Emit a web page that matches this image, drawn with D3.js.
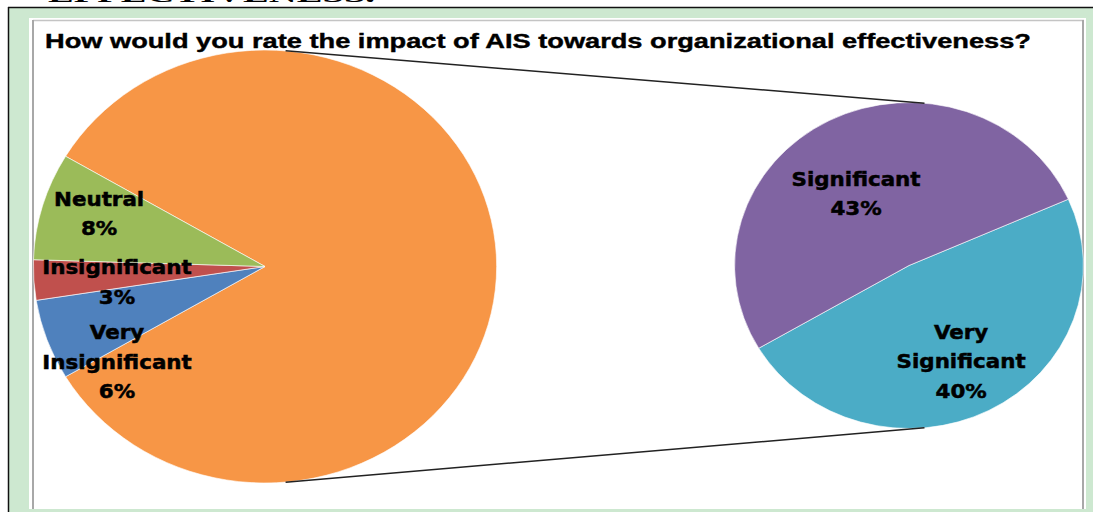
<!DOCTYPE html>
<html>
<head>
<meta charset="utf-8">
<script src="https://cdn.jsdelivr.net/npm/d3@7"></script>
<style>
  body { margin: 0; background: #fff; }
  svg { display: block; }
</style>
</head>
<body>
<div id="chart"></div>
<script>
// data
const categories = ['Very Insignificant', 'Insignificant', 'Neutral', 'Significant', 'Very Significant'];
const percents = [6, 3, 8, 43, 40];
const secondary = ['Very Significant', 'Significant'];   // split out into the right pie
const primary = ['Very Insignificant', 'Insignificant', 'Neutral'];
const otherLabel = 'Other';
const title = 'How would you rate the impact of AIS towards organizational effectiveness?';

const size = { width: 1093, height: 512 };
const stretch = 1.07;   // the picture is a bit wider than tall

const colour = d3.scaleOrdinal()
    .domain([...categories, otherLabel])
    .range(['#4f81bd', '#c0504d', '#9bbb59', '#8064a2', '#4bacc6', '#f79646']);

const value = name => percents[categories.indexOf(name)];

let svg = d3.select('#chart').append('svg')
    .attr('width', size.width)
    .attr('height', size.height);

// frame
svg.append('rect').attr('x', 9).attr('y', 8).attr('width', 1084).attr('height', 504).attr('fill', '#cde8d0');
svg.append('line').attr('x1', 8).attr('x2', 1093).attr('y1', 7.5).attr('y2', 7.5).attr('stroke', '#111').attr('stroke-width', 1.5);
svg.append('line').attr('x1', 8.5).attr('x2', 8.5).attr('y1', 7).attr('y2', 512).attr('stroke', '#111').attr('stroke-width', 1.5);
svg.append('rect').attr('x', 29).attr('y', 18).attr('width', 1057).attr('height', 491).attr('fill', '#fff');
svg.append('line').attr('x1', 33).attr('x2', 1084).attr('y1', 20.5).attr('y2', 20.5).attr('stroke', '#c4c4c4').attr('stroke-width', 1.5);
svg.append('line').attr('x1', 33).attr('x2', 33).attr('y1', 20).attr('y2', 509).attr('stroke', '#a8a8a8').attr('stroke-width', 2);
svg.append('line').attr('x1', 1083).attr('x2', 1083).attr('y1', 20).attr('y2', 509).attr('stroke', '#a8a8a8').attr('stroke-width', 2);

// heading of the page above, cut off
svg.append('text')
    .attr('x', 48).attr('y', 2)
    .attr('font-family', 'Liberation Serif').attr('font-weight', 'bold').attr('font-size', 22)
    .attr('textLength', 327).attr('lengthAdjust', 'spacingAndGlyphs')
    .text('EFFECTIVENESS.');

svg.append('text')
    .attr('x', 45).attr('y', 48)
    .attr('font-family', 'Liberation Sans').attr('font-weight', 'bold').attr('font-size', 20.5)
    .attr('stroke', '#000').attr('stroke-width', 0.4)
    .attr('textLength', 986).attr('lengthAdjust', 'spacingAndGlyphs')
    .text(title);

// two pies
const pies = {
    left: { cx: 265, cy: 266.5, r: 216.5, start: Math.PI / 2 - Math.PI * d3.sum(secondary, value) / 100 },
    right: { cx: 909, cy: 265.5, r: 163, start: 66 * Math.PI / 180 }
};

const leftData = [{ name: otherLabel, value: d3.sum(secondary, value) }]
    .concat(primary.map(n => ({ name: n, value: value(n) })));
const rightData = secondary.map(n => ({ name: n, value: value(n) }));

function drawPie(p, data) {
    let arcs = d3.pie().sort(null).value(d => d.value)
        .startAngle(p.start).endAngle(p.start + 2 * Math.PI)(data);
    let arc = d3.arc().innerRadius(0).outerRadius(p.r);
    svg.append('g')
        .attr('transform', `translate(${p.cx},${p.cy}) scale(${stretch},1)`)
        .selectAll('path').data(arcs).join('path')
        .attr('d', arc)
        .attr('fill', d => colour(d.data.name))
        .attr('stroke', '#fff').attr('stroke-width', 0.6);
}
drawPie(pies.left, leftData);
drawPie(pies.right, rightData);

// point on a stretched pie, angle clockwise from 12 o'clock
function polar(p, deg, frac) {
    let a = deg * Math.PI / 180;
    return [p.cx + stretch * p.r * frac * Math.sin(a), p.cy - p.r * frac * Math.cos(a)];
}

// connector lines: outer tangents of the two pies
const dist = (pies.right.cx - pies.left.cx) / stretch;
const phi = Math.asin((pies.left.r - pies.right.r) / dist) * 180 / Math.PI;
[phi, 180 - phi].forEach(a => {
    let p1 = polar(pies.left, a, 1), p2 = polar(pies.right, a, 1);
    svg.append('line')
        .attr('x1', p1[0]).attr('y1', p1[1]).attr('x2', p2[0]).attr('y2', p2[1])
        .attr('stroke', '#222').attr('stroke-width', 1.5);
});

// labels: angle and radius fraction of the block centre
const labelSpots = {
    'Neutral': ['left', 288.9, 0.757],
    'Insignificant': ['left', 263.6, 0.643],
    'Very Insignificant': ['left', 235.4, 0.776],
    'Significant': ['right', 325.5, 0.536],
    'Very Significant': ['right', 153, 0.658]
};
const lineH = 29.5;

categories.forEach((name, i) => {
    let spot = labelSpots[name];
    let [x, yc] = polar(pies[spot[0]], spot[1], spot[2]);
    let lines = name.startsWith('Very ') ? ['Very', name.slice(5)] : [name];
    lines.push(percents[i] + '%');
    let y0 = yc - (lines.length - 1) * lineH / 2 + 7;
    lines.forEach((t, j) => {
        svg.append('text')
            .attr('transform', `translate(${x},${y0 + j * lineH}) scale(${stretch},1)`)
            .attr('text-anchor', 'middle')
            .attr('font-family', 'DejaVu Sans').attr('font-weight', 'bold').attr('font-size', 20)
            .attr('fill', '#000').attr('stroke', '#000').attr('stroke-width', 0.5)
            .text(t);
    });
});
</script>
</body>
</html>
